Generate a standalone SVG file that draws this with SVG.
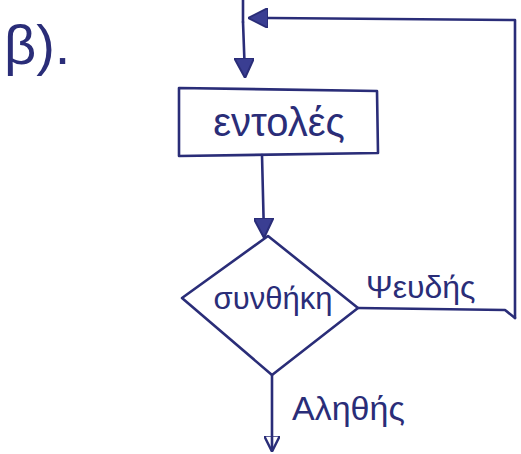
<svg xmlns="http://www.w3.org/2000/svg" width="521" height="454" viewBox="0 0 521 454">
<defs>
<style>
.ink{fill:none;stroke:#2a2d78;stroke-width:2.6;stroke-linecap:round;stroke-linejoin:round}
.txt{fill:#2a2d78;font-family:"Liberation Sans","DejaVu Sans",sans-serif}
</style>
<marker id="arrBig" viewBox="0 0 10 10" refX="9" refY="5" markerWidth="20" markerHeight="20" orient="auto" markerUnits="userSpaceOnUse">
<path d="M0,0 L10,5 L0,10 z" fill="#3a3e92" stroke="#2a2d78" stroke-width="1"/>
</marker>
<marker id="arrOpen" viewBox="0 0 10 10" refX="9" refY="5" markerWidth="16" markerHeight="16" orient="auto" markerUnits="userSpaceOnUse">
<path d="M0,0 L10,5 L0,10 z" fill="none" stroke="#2a2d78" stroke-width="1.5"/>
</marker>
</defs>
<rect width="521" height="454" fill="#ffffff"/>
<text class="txt" x="4" y="64" font-size="56">β).</text>
<g id="connectors">
<path class="ink" d="M243,0 L243,22"/>
<path class="ink" d="M515,318 L515,20 L270,18 L250,18" marker-end="url(#arrBig)"/>
<path class="ink" d="M243,22 L245,76" marker-end="url(#arrBig)"/>
<path class="ink" d="M262,155 L264,236" marker-end="url(#arrBig)"/>
<path class="ink" d="M358,308 L505,310 L515,318"/>
<path class="ink" d="M272,375 L272,450" marker-end="url(#arrOpen)"/>
</g>
<g id="entoles">
<path class="ink" d="M179,88 L377,91 L378,153 L179,156 Z"/>
<text class="txt" x="279" y="136" font-size="40" text-anchor="middle">εντολές</text>
</g>
<g id="synthiki">
<path class="ink" d="M268,236 L358,308 L272,375 L182,298 Z"/>
<text class="txt" x="273" y="309" font-size="31" text-anchor="middle">συνθήκη</text>
</g>
<text class="txt" x="366" y="298" font-size="32">Ψευδής</text>
<text class="txt" x="292" y="420" font-size="34">Αληθής</text>
</svg>
